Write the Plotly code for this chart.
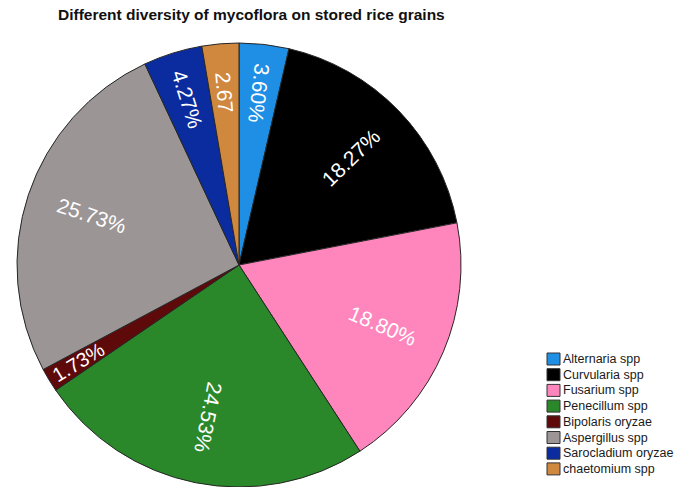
import math
import plotly.graph_objects as go

categories = ["Alternaria spp", "Curvularia spp", "Fusarium spp", "Penecillum spp",
              "Bipolaris oryzae", "Aspergillus spp", "Sarocladium oryzae", "chaetomium spp"]
values = [3.60, 18.27, 18.80, 24.53, 1.73, 25.73, 4.27, 2.67]
slice_labels = ["3.60%", "18.27%", "18.80%", "24.53%", "1.73%", "25.73%", "4.27%", "2.67"]
colors = ["#1F8FE5", "#000000", "#FF85BD", "#2A882A", "#5E0A0A", "#9B9595", "#0A2C9E", "#D0883F"]
title_text = "Different diversity of mycoflora on stored rice grains"

W, H = 677, 487
CX, CY, R = 239, 265, 222  # pie centre / radius in pixels

fig = go.Figure(go.Pie(
    labels=categories, values=values, sort=False, direction="clockwise", rotation=0,
    marker=dict(colors=colors, line=dict(color="#262626", width=1)),
    textinfo="none", hoverinfo="label+percent", showlegend=False,
    domain=dict(x=[(CX - R) / W, (CX + R) / W], y=[0, (2 * R) / H]),
))

# slice labels, placed radially from the data
total = sum(values)
cum = 0.0
annotations = []
for v, lab in zip(values, slice_labels):
    mid = (cum + v / 2) / total * 360.0
    cum += v
    frac = 0.70 if v >= 10 else (0.78 if v >= 2 else 0.845)
    th = math.radians(mid)
    px = CX + frac * R * math.sin(th)
    py = CY - frac * R * math.cos(th)
    ang = (mid + 90) % 180
    if ang > 110:
        ang -= 180
    annotations.append(dict(
        x=px / W, y=1 - py / H, xref="paper", yref="paper", text=lab, showarrow=False,
        textangle=ang, xanchor="center", yanchor="middle",
        font=dict(family="Liberation Sans, Arial, sans-serif", size=21 if v >= 2 else 20,
                  color="white"),
    ))

# legend box (drawn from the category and colour lists)
shapes = []
LX, LY, STEP, SW, SH = 547, 359, 15.7, 13, 12
for i, (c, col) in enumerate(zip(categories, colors)):
    yc = LY + i * STEP
    shapes.append(dict(type="rect", xref="paper", yref="paper",
                       x0=LX / W, x1=(LX + SW) / W,
                       y0=1 - (yc + SH / 2) / H, y1=1 - (yc - SH / 2) / H,
                       fillcolor=col, line=dict(color="#333333", width=1)))
    annotations.append(dict(x=(LX + SW + 1) / W, y=1 - yc / H, xref="paper", yref="paper",
                            text=c, showarrow=False, xanchor="left", yanchor="middle",
                            font=dict(family="Liberation Sans, Arial, sans-serif", size=12.5,
                                      color="#1a1a1a")))

fig.update_layout(
    width=W, height=H, margin=dict(l=0, r=0, t=0, b=0),
    paper_bgcolor="white", plot_bgcolor="white",
    title=dict(text="<b>" + title_text + "</b>", x=58 / W, xanchor="left", xref="paper",
               y=1 - 15 / H, yref="container", yanchor="middle",
               font=dict(family="Liberation Sans, Arial, sans-serif", size=15.5, color="#111111")),
    annotations=annotations, shapes=shapes,
)

fig.write_html("out.html")
